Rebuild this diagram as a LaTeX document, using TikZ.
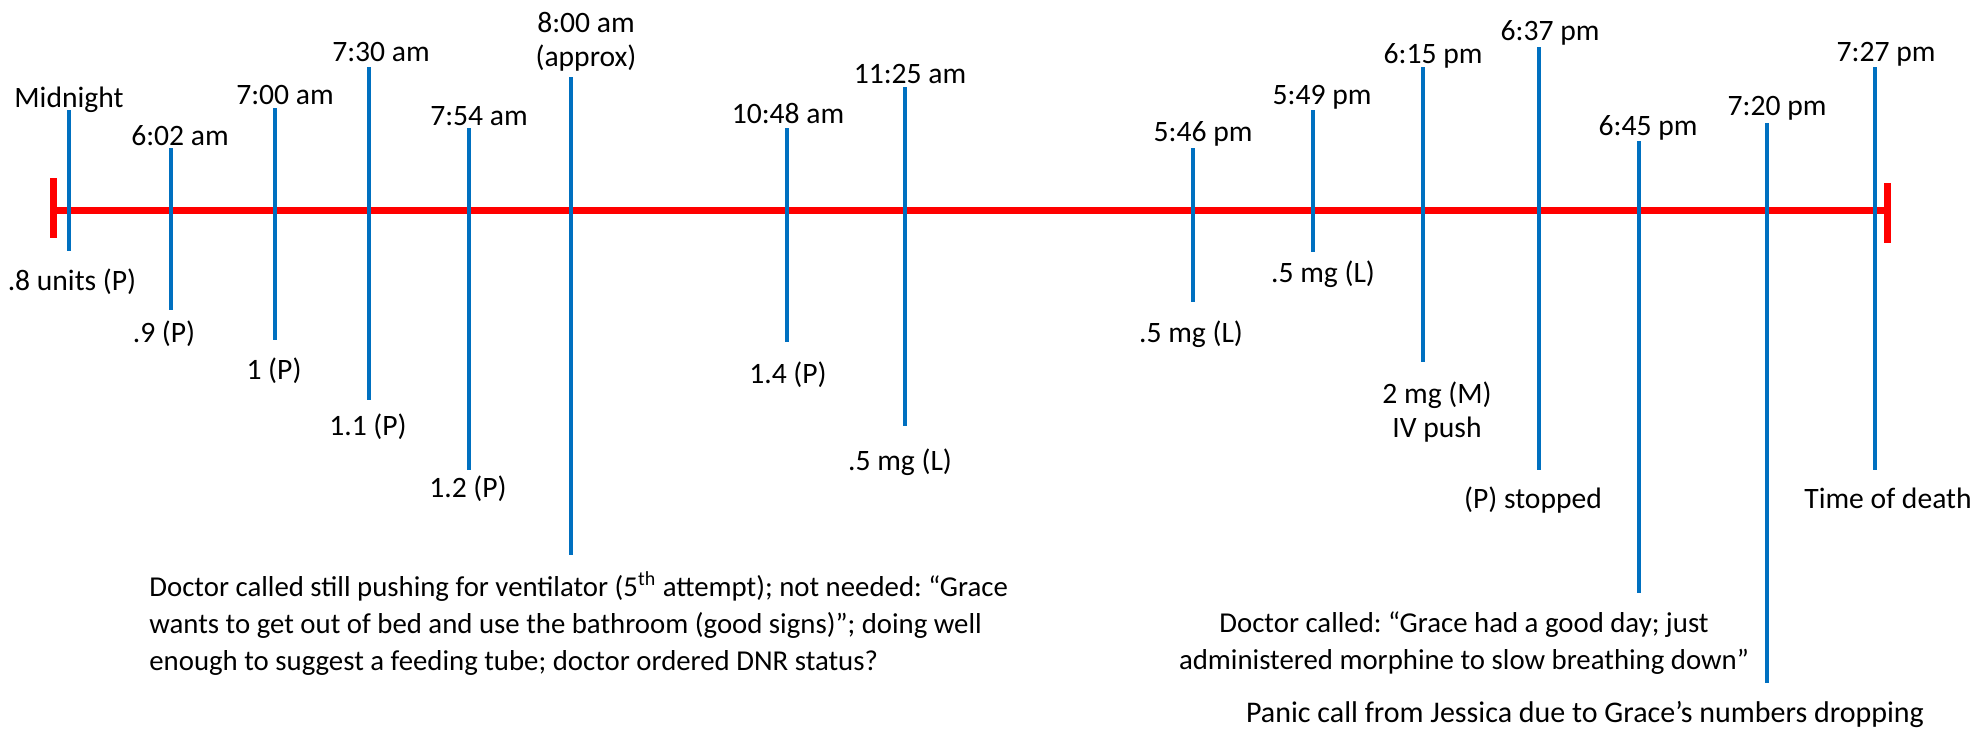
\documentclass[tikz,border=0pt]{standalone}
\usepackage{fontspec}
\setmainfont{Carlito}
\usepackage{tikz}
\usetikzlibrary{positioning}
\definecolor{tickblue}{RGB}{0,112,192}
\frenchspacing

\begin{document}
\begin{tikzpicture}[x=0.5pt,y=-0.5pt,
    bluetick/.style={draw=tickblue,line width=1.7pt},
    redline/.style={draw=red,line width=3.5pt},
    lab/.style={anchor=base,inner sep=0pt,align=center,font=\fontsize{14.8}{17}\selectfont},
    note/.style={anchor=base,inner sep=0pt,font=\fontsize{14.4}{18.5}\selectfont}]
\useasboundingbox (0,0) rectangle (1979,728);
% Time line
\coordinate (start) at (53,210);
\coordinate (stop) at (1887,210);
\coordinate (starttop) at (53,178);
\coordinate (startbot) at (53,238);
\coordinate (stoptop) at (1887,183);
\coordinate (stopbot) at (1887,243);
\draw [redline] (start) -- (stop);
\draw [redline] (starttop) -- (startbot);
\draw [redline] (stoptop) -- (stopbot);
% ticks
\foreach \n/\x/\a/\b in {1/69/110/251, 2/171/148/310, 3/275/108/340, 4/369/67/400,
    5/469/128/470, 6/571/77/555, 7/787/128/342, 8/905/87/426, 9/1193/148/302,
    10/1313/110/252, 11/1423/67/362, 12/1539/47/470, 13/1639/141/593,
    14/1767/123/683, 15/1875/67/470}{
    \coordinate (t\n) at (\x,\a);
    \coordinate (b\n) at (\x,\b);
    \draw [bluetick] (t\n) -- (b\n);
}
% times above the line (base = last line)
\foreach \n/\x/\y/\txt in {1/69/107/Midnight, 2/180/145/6:02 am, 3/285/104/7:00 am,
    4/381/61/7:30 am, 5/479/125/7:54 am, 6/586/66/{8:00 am\\(approx)},
    7/788/123/10:48 am, 8/910/83/11:25 am, 9/1203/141/5:46 pm, 10/1322/104/5:49 pm,
    11/1433/63/6:15 pm, 12/1550/40/6:37 pm, 13/1648/135/6:45 pm, 14/1777/115/7:20 pm,
    15/1886/61/7:27 pm}{
    \node [lab] (time\n) at (\x,\y) {\txt};
}
% doses below the line
\foreach \n/\x/\y/\txt in {1/72/290/.8 units (P), 2/164/342/.9 (P), 3/274/379/1 (P),
    4/368/435/1.1 (P), 5/468/497/1.2 (P), 7/788/383/1.4 (P), 8/900/470/.5 mg (L),
    9/1191/342/.5 mg (L), 10/1323/282/.5 mg (L), 11/1437/437/{2 mg (M)\\IV push},
    12/1533/508/(P) stopped, 15/1888/508/Time of death}{
    \node [lab] (dose\n) at (\x,\y) {\txt};
}
% notes
\node [note,anchor=base west,align=left] (morning) at (149,670)
    {Doctor called still pushing for ventilator (5\textsuperscript{th} attempt); not needed: “Grace\\
     wants to get out of bed and use the bathroom (good signs)”; doing well\\
     enough to suggest a feeding tube; doctor ordered DNR status?};
\node [note,align=center] (evening) at (1464,669)
    {Doctor called: “Grace had a good day; just\\
     administered morphine to slow breathing down”};
\node [note,font=\fontsize{15}{18.5}\selectfont] (panic) at (1585,722)
    {Panic call from Jessica due to Grace’s numbers dropping};
\end{tikzpicture}
\end{document}
